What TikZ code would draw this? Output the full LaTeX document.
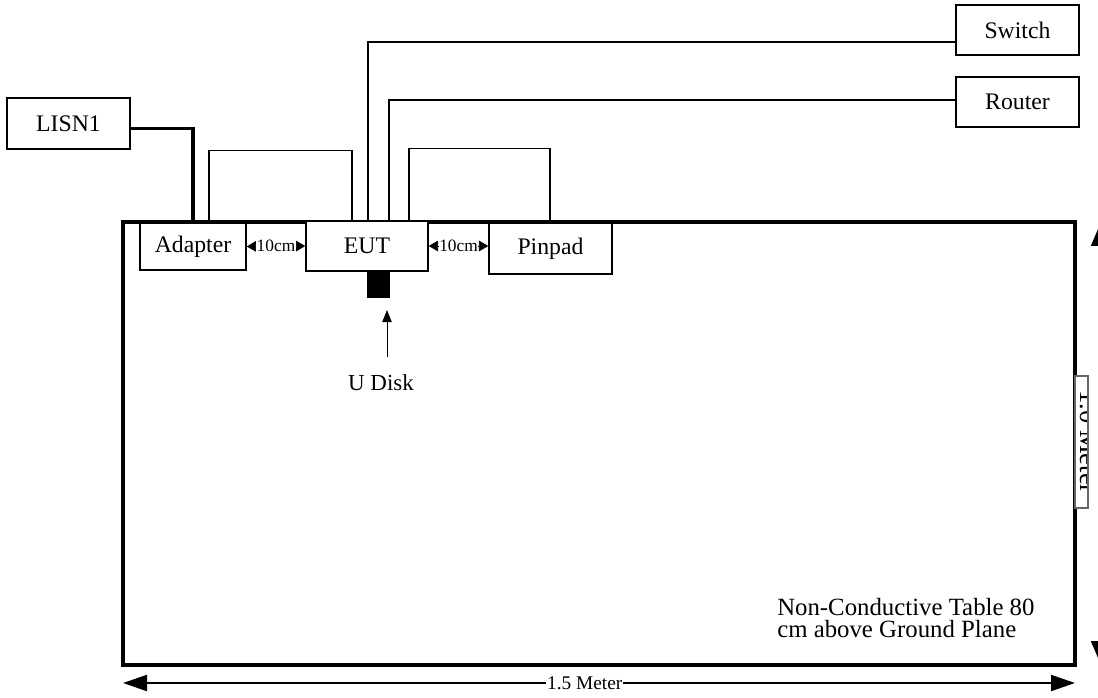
\documentclass[tikz,border=0pt]{standalone}
\usepackage{fontspec}
\setmainfont{Liberation Serif}
\usetikzlibrary{arrows.meta}
\begin{document}
\begin{tikzpicture}[x=0.75pt,y=-0.75pt,
  box/.style={draw, line width=1.1pt, fill=white, inner sep=0pt, font=\fontsize{17.8}{20}\selectfont},
  cable/.style={line width=0.8pt},
  power/.style={line width=2.3pt},
  dimlabel/.style={fill=white, inner sep=0.3pt, font=\fontsize{13}{14}\selectfont},
  smalldim/.style={{Triangle[length=7pt,width=8pt]}-{Triangle[length=7pt,width=8pt]}, line width=0.6pt}]
\useasboundingbox (0,0) rectangle (1098,698);

% table
\node[draw, line width=2.3pt, minimum width=714pt, minimum height=332.25pt, inner sep=0pt] (table) at (599,443.5) {};

% boxes
\node[box, minimum width=92.25pt, minimum height=38.25pt] (lisn) at (68.5,123.5) {LISN1};
\node[box, minimum width=92.25pt, minimum height=37.5pt] (switch) at (1017.5,30) {Switch};
\node[box, minimum width=92.25pt, minimum height=37.5pt] (router) at (1017.5,102) {Router};
\node[box, minimum width=79.5pt, minimum height=35.25pt] (adapter) at (193,246.5) {Adapter};
\node[box, minimum width=91.5pt, minimum height=37.5pt] (eut) at (367,246) {EUT};
\node[box, minimum width=92.25pt, minimum height=38.25pt] (pinpad) at (550.5,248.5) {Pinpad};
\node[fill=black, draw=black, inner sep=0pt, minimum width=16.5pt, minimum height=19.5pt, anchor=north] (udisk) at (378,271) {};

% cables
\draw[power] ([yshift=-3.5pt]lisn.east) -| (adapter.north);
\draw[cable] ([xshift=12pt]adapter.north) -- ++(0,-72) -| ([xshift=-11.25pt]eut.north);
\draw[cable] ([xshift=0.75pt]eut.north) |- ([yshift=-9pt]switch.west);
\draw[cable] ([xshift=16.5pt]eut.north) |- ([yshift=1.5pt]router.west);
\draw[cable] ([xshift=31.5pt]eut.north) -- ++(0,-72) -| ([xshift=-0.4pt]pinpad.north);

% 10cm dimensions
\draw[smalldim] (adapter.east) -- node[dimlabel] {10cm} (eut.west);
\draw[smalldim] (eut.west -| eut.east) -- node[dimlabel] {10cm} (pinpad.west |- eut.west);

% U disk arrow
\node[font=\fontsize{17.2}{18}\selectfont] (ulabel) at (381,383) {U Disk};
\coordinate (ubottom) at (387,357);
\coordinate (utop) at (387,310);
\draw[line width=0.7pt, -{Triangle[length=9pt,width=7pt]}] (ubottom) -- (utop);

% table text
\node[anchor=north west, align=left, inner sep=0pt, font=\fontsize{18.6}{16.8}\selectfont] (tabletext) at (777,598) {Non-Conductive Table 80\\cm above Ground Plane};

% 1.5 Meter dimension
\coordinate (hl) at (123,683);
\coordinate (hr) at (1075,683);
\draw[line width=1.5pt, {Triangle[length=18pt,width=12pt]}-{Triangle[length=18pt,width=12pt]}] (hl) -- node[pos=0.485, fill=white, inner sep=0.5pt, font=\fontsize{14.5}{16}\selectfont] (hlabel) {1.5 Meter} (hr);

% 1.0 Meter dimension (mostly off page)
\coordinate (vt) at (1101,222);
\coordinate (vb) at (1101,665);
\draw[line width=1.5pt, {Triangle[length=18pt,width=15pt]}-{Triangle[length=18pt,width=15pt]}] (vt) -- (vb);
\begin{scope}
  \clip (1075,376) rectangle (1088,508);
  \fill[white] (1075,376) rectangle (1088,508);
  \node[rotate=-90, anchor=base, font=\fontsize{20}{22}\selectfont] (vlabel) at (1080,442) {1.0 Meter};
\end{scope}
\draw[gray!80!black, line width=0.8pt] (1075,376) rectangle (1088,508);
\end{tikzpicture}
\end{document}
